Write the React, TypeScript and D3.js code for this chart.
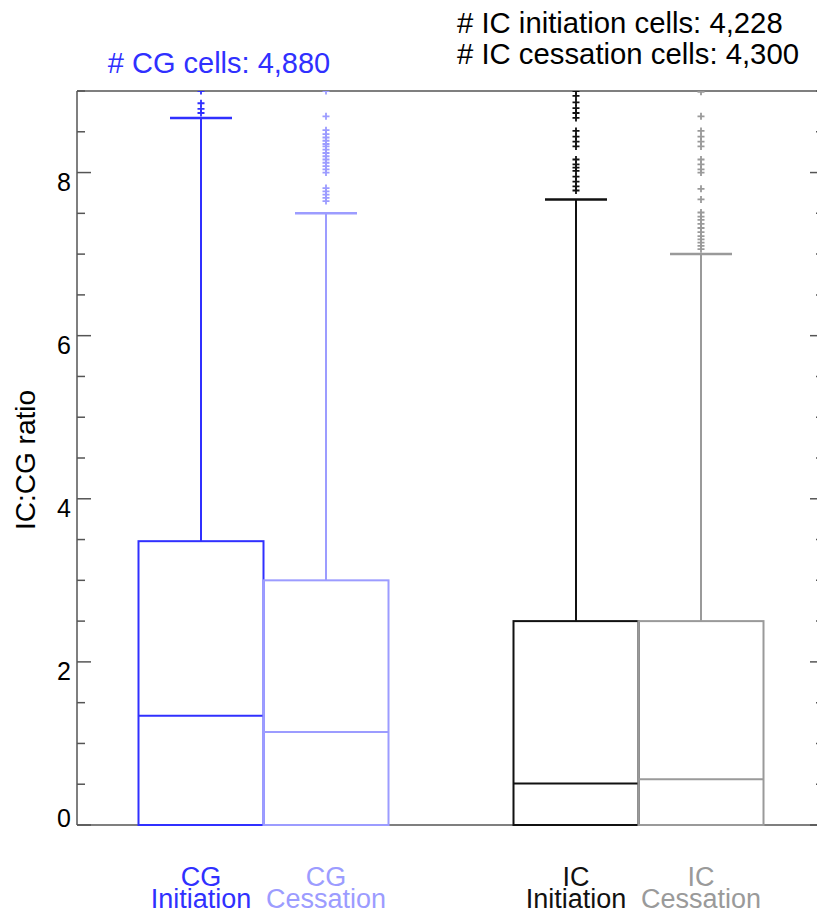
import React from "react";
import * as d3 from "d3";

const categories = ["CG Initiation", "CG Cessation", "IC Initiation", "IC Cessation"];
const labelLines = [["CG", "Initiation"], ["CG", "Cessation"], ["IC", "Initiation"], ["IC", "Cessation"]];
const positions = [1, 2, 4, 5];
const q1 = [0, 0, 0, 0];
const medians = [1.34, 1.14, 0.51, 0.56];
const q3 = [3.48, 3.0, 2.5, 2.5];
const whiskerHi = [8.67, 7.5, 7.67, 7.0];
const colors = ["#3030ff", "#9c9cff", "#111111", "#9a9a9a"];

const outliersCGInit = [8.73, 8.78, 8.85, 9.0];
const outliersCGCess = [7.65, 7.69, 7.73, 7.77, 7.81, 8.0, 8.04, 8.08, 8.12, 8.16, 8.2, 8.24, 8.28, 8.32, 8.35, 8.39, 8.43, 8.47, 8.52, 8.69, 9.0];
const outliersICInit = [7.78, 7.83, 7.89, 7.95, 8.02, 8.06, 8.1, 8.16, 8.32, 8.38, 8.44, 8.51, 8.67, 8.73, 8.79, 8.86, 8.94, 9.0];
const outliersICCess = [7.06, 7.1, 7.14, 7.18, 7.22, 7.27, 7.32, 7.37, 7.42, 7.46, 7.51, 7.67, 7.8, 8.0, 8.04, 8.1, 8.16, 8.32, 8.38, 8.44, 8.51, 8.69, 8.99];
const outliers = [outliersCGInit, outliersCGCess, outliersICInit, outliersICCess];

const yMajorTicks = [0, 2, 4, 6, 8];
const yMinorStep = 0.5;
const yMax = 9;

const headerCG = "# CG cells: 4,880";
const headerIC = ["# IC initiation cells: 4,228", "# IC cessation cells: 4,300"];
const yTitle = "IC:CG ratio";

const FONT = "'Liberation Sans', Arial, Helvetica, sans-serif";

export default function App() {
  const W = 817, H = 915;
  const left = 77, right = 824, top = 91, bottom = 825;
  const y = d3.scaleLinear().domain([0, yMax]).range([bottom, top]);
  const x = d3.scaleLinear().domain([1, 5]).range([201, 701]);
  const boxW = 125;
  const capW = 62;
  const minorTicks = d3.range(0, yMax + 0.001, yMinorStep).filter((v) => !yMajorTicks.includes(v));
  const axisColor = "#555";

  return (
    <svg width={W} height={H} style={{ position: "absolute", left: 0, top: 0, background: "#fff" }} fontFamily={FONT}>
      <defs>
        <clipPath id="plot">
          <rect x={left} y={top} width={right - left} height={bottom - top + 2} />
        </clipPath>
      </defs>
      <rect x={0} y={0} width={W} height={H} fill="#fff" />
      <line x1={left} x2={right} y1={top} y2={top} stroke={axisColor} strokeWidth={1.5} />
      <line x1={left} x2={right} y1={bottom} y2={bottom} stroke={axisColor} strokeWidth={1.5} />
      <line x1={left} x2={left} y1={top} y2={bottom} stroke={axisColor} strokeWidth={1.5} />
      <line x1={right} x2={right} y1={top} y2={bottom} stroke={axisColor} strokeWidth={1.5} />
      {yMajorTicks.map((v) => (
        <g key={"M" + v}>
          <line x1={left} x2={left + 14} y1={y(v)} y2={y(v)} stroke={axisColor} strokeWidth={1.5} />
          <line x1={right} x2={right - 14} y1={y(v)} y2={y(v)} stroke={axisColor} strokeWidth={1.5} />
          <text x={71} y={v === 0 ? y(v) + 2 : y(v) + 18} textAnchor="end" fontSize={25} fill="#000">
            {v}
          </text>
        </g>
      ))}
      {minorTicks.map((v) => (
        <g key={"m" + v}>
          <line x1={left} x2={left + 8} y1={y(v)} y2={y(v)} stroke={axisColor} strokeWidth={1.5} />
          <line x1={right} x2={right - 8} y1={y(v)} y2={y(v)} stroke={axisColor} strokeWidth={1.5} />
        </g>
      ))}
      <text transform={`translate(35,530) rotate(-90)`} fontSize={28} fill="#000">
        {yTitle}
      </text>

      <g clipPath="url(#plot)">
        {categories.map((c, i) => {
          const cx = x(positions[i]);
          const col = colors[i];
          return (
            <g key={c} stroke={col} fill="none" strokeWidth={2}>
              <rect x={cx - boxW / 2} y={y(q3[i])} width={boxW} height={y(q1[i]) - y(q3[i])} />
              <line x1={cx - boxW / 2} x2={cx + boxW / 2} y1={y(medians[i])} y2={y(medians[i])} />
              <line x1={cx} x2={cx} y1={y(q3[i])} y2={y(whiskerHi[i])} />
              <line x1={cx - capW / 2} x2={cx + capW / 2} y1={y(whiskerHi[i])} y2={y(whiskerHi[i])} strokeWidth={2.5} />
              {outliers[i].map((v, j) => (
                <path key={j} d={`M${cx - 3.5},${y(v)}h7M${cx},${y(v) - 3.5}v7`} strokeWidth={1.8} />
              ))}
            </g>
          );
        })}
      </g>

      {categories.map((c, i) => (
        <g key={c}>
          <text x={x(positions[i])} y={886} textAnchor="middle" fontSize={27} fill={colors[i]}>
            {labelLines[i][0]}
          </text>
          <text x={x(positions[i])} y={908} textAnchor="middle" fontSize={27} fill={colors[i]}>
            {labelLines[i][1]}
          </text>
        </g>
      ))}

      <text x={219} y={73} textAnchor="middle" fontSize={29} fill={colors[0]}>
        {headerCG}
      </text>
      <text x={457} y={33} fontSize={29.3} fill="#000">
        {headerIC[0]}
      </text>
      <text x={457} y={64} fontSize={29.3} fill="#000">
        {headerIC[1]}
      </text>
    </svg>
  );
}
